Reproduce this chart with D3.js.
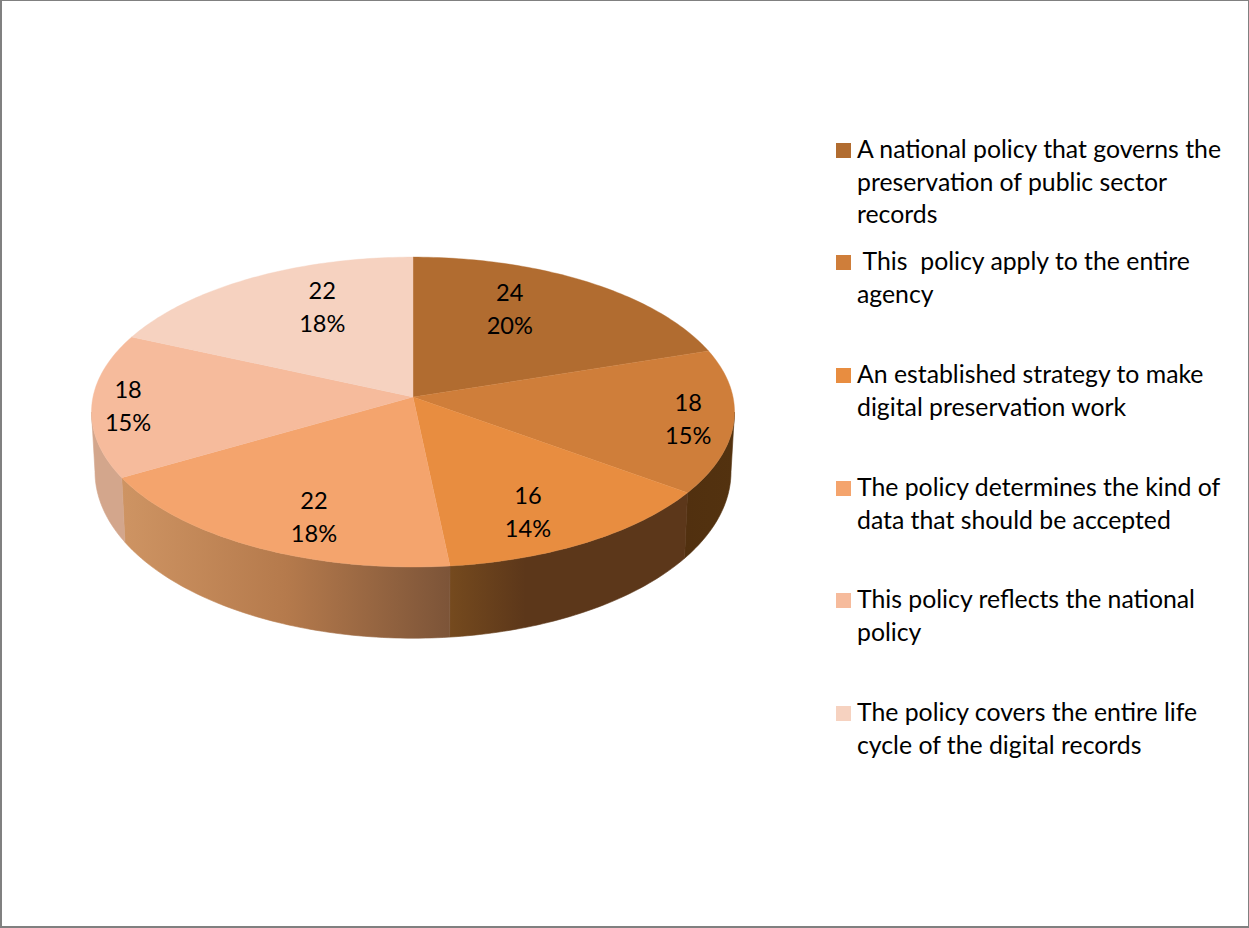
<!DOCTYPE html>
<html>
<head>
<meta charset="utf-8">
<script src="https://cdn.jsdelivr.net/npm/d3@7"></script>
<style>
html,body{margin:0;padding:0;background:#fff;}
svg{display:block;}
text{font-family:Lato,"Open Sans",sans-serif;fill:#000;}
</style>
</head>
<body>
<svg id="chart" width="1249" height="928"></svg>
<script>
// Chart values
const categories = [
  ["A national policy that governs the", "preservation of public sector", "records"],
  ["\u00A0This\u00A0\u00A0policy apply to the entire", "agency"],
  ["An established strategy to make", "digital preservation work"],
  ["The policy determines the kind of", "data that should be accepted"],
  ["This policy reflects the national", "policy"],
  ["The policy covers the entire life", "cycle of the digital records"]
];
const counts = [24, 18, 16, 22, 18, 22];
const percentLabels = ["20%", "15%", "14%", "18%", "15%", "18%"];

// Styling
const topColors = ["#B16C30", "#CF7E3A", "#E88D40", "#F4A46D", "#F6BB9C", "#F6D2C0"];
const wallStops = [
  null,
  [[0, "#51300F"], [1, "#53320F"]],
  [[0, "#754A1E"], [0.32, "#5C371A"], [1, "#5C371A"]],
  [[0, "#CE9463"], [0.5, "#B57A4C"], [1, "#7C5438"]],
  [[0, "#D3A68C"], [1, "#D3A68C"]],
  null
];
const legendBaselines = [158, 270, 383, 496, 608, 721];
const labelRadius = [0.6, 0.85, 0.7, 0.65, 0.9, 0.6];
const labelNudge = [[-11, -17], [3, 1], [-4, 16], [1, 26], [4, 2], [9, -16]];

const svg = d3.select("#chart");
const W = 1249, H = 928;

svg.append("rect").attr("width", W).attr("height", H).attr("fill", "#fff");

// Perspective projection of the tilted disc: k is the foreshortening factor
const k = 0.097;
const apex = { x: 413, y: 397 };
const topDisc = { ax: 320, by: 153.5, y0: apex.y };
const baseDisc = { ax: 316.5, by: 165, y0: 455.5 };

function project(disc, theta, r = 1) {
  const u = r * Math.sin(theta), v = r * Math.cos(theta), w = 1 + k * v;
  return [apex.x + disc.ax * u / w, disc.y0 - disc.by * v / w];
}

const pie = d3.pie().sort(null).value(d => d);
const arcs = pie(counts);
const line = d3.line();
const STEP = Math.PI / 180;

function sweep(a0, a1) {
  const n = Math.max(2, Math.ceil((a1 - a0) / STEP));
  return d3.range(n + 1).map(i => a0 + (a1 - a0) * i / n);
}

// Outer wall: runs between the silhouette tangents of the projected disc,
// and the top face covers whatever sits behind it
const defs = svg.append("defs");
const tangent = Math.acos(-k);
const wallLimits = [tangent, 2 * Math.PI - tangent];
const walls = svg.append("g");
arcs.forEach((d, i) => {
  const a0 = Math.max(d.startAngle, wallLimits[0]);
  const a1 = Math.min(d.endAngle, wallLimits[1]);
  if (a1 <= a0 || !wallStops[i]) return;
  const angles = sweep(a0, a1);
  const upper = angles.map(a => project(topDisc, a));
  const lower = angles.map(a => project(baseDisc, a)).reverse();
  const xs = upper.concat(lower).map(p => p[0]);
  const id = "wall" + i;
  // Gradients read left to right across the wall section
  const g = defs.append("linearGradient").attr("id", id)
    .attr("gradientUnits", "userSpaceOnUse")
    .attr("x1", d3.min(xs)).attr("x2", d3.max(xs)).attr("y1", 0).attr("y2", 0);
  wallStops[i].forEach(([o, c]) => g.append("stop").attr("offset", o).attr("stop-color", c));
  // A thin stroke closes the anti-aliasing seam between neighbouring sections
  walls.append("path")
    .attr("d", line(upper.concat(lower)) + "Z")
    .attr("fill", `url(#${id})`)
    .attr("stroke", `url(#${id})`)
    .attr("stroke-width", 0.6);
});

// Top face
const faces = svg.append("g");
arcs.forEach((d, i) => {
  const rim = sweep(d.startAngle, d.endAngle).map(a => project(topDisc, a));
  faces.append("path")
    .attr("d", line([[apex.x, apex.y], ...rim]) + "Z")
    .attr("fill", topColors[i])
    .attr("stroke", topColors[i])
    .attr("stroke-width", 0.4);
});

// Value and percentage labels
const labels = svg.append("g").attr("font-size", 23.6).attr("text-anchor", "middle");
arcs.forEach((d, i) => {
  const mid = (d.startAngle + d.endAngle) / 2;
  const [px, py] = project(topDisc, mid, labelRadius[i]);
  const x = px + labelNudge[i][0], y = py + labelNudge[i][1];
  labels.append("text").attr("x", x).attr("y", y - 8).text(d.data);
  labels.append("text").attr("x", x).attr("y", y + 25).text(percentLabels[i]);
});

// Legend
const legend = svg.append("g").attr("font-size", 24.8);
categories.forEach((lines, i) => {
  const base = legendBaselines[i];
  legend.append("rect")
    .attr("x", 836).attr("y", base - 15)
    .attr("width", 15).attr("height", 15)
    .attr("fill", topColors[i]);
  lines.forEach((t, j) => {
    legend.append("text").attr("x", 857).attr("y", base + j * 32.6).text(t);
  });
});

// Frame around the chart area
const frame = svg.append("g").attr("fill", "#808080");
frame.append("rect").attr("x", 0).attr("y", 0).attr("width", W).attr("height", 1);
frame.append("rect").attr("x", 0).attr("y", 0).attr("width", 2).attr("height", H);
frame.append("rect").attr("x", W - 1).attr("y", 0).attr("width", 1).attr("height", H);
frame.append("rect").attr("x", 0).attr("y", H - 2).attr("width", W).attr("height", 2);
</script>
</body>
</html>
